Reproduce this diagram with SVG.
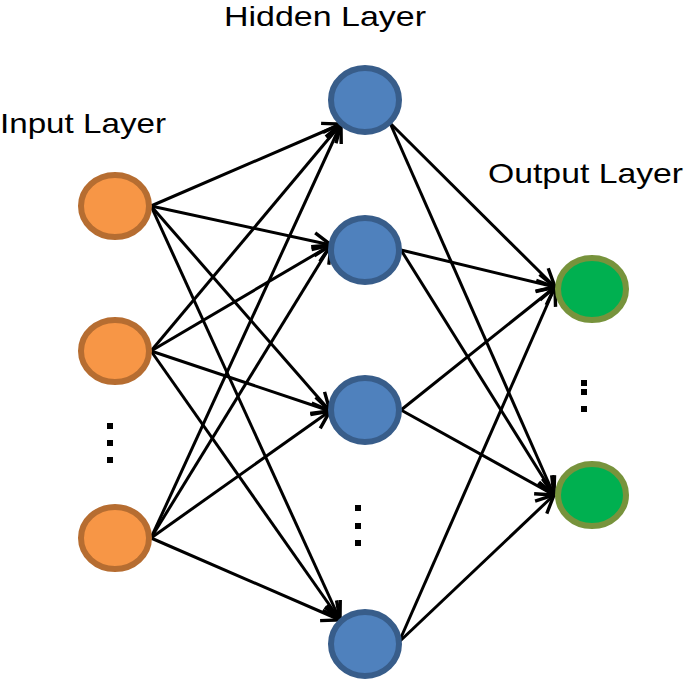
<svg xmlns="http://www.w3.org/2000/svg" width="685" height="682" viewBox="0 0 685 682">
<style>
.lbl{font-family:"Liberation Sans",Arial,sans-serif;font-size:28px;fill:#000}
.e{stroke:#000;stroke-width:3;fill:none;marker-end:url(#ah)}
.in{fill:#F79646;stroke:#B66D31;stroke-width:6}
.hid{fill:#4F81BD;stroke:#385D8A;stroke-width:6}
.out{fill:#00B050;stroke:#77933C;stroke-width:6}
.dot{fill:#000}
</style>
<defs>
<marker id="ah" viewBox="-20 -11 22 22" refX="0" refY="0" markerWidth="22" markerHeight="22" markerUnits="userSpaceOnUse" orient="auto">
<path d="M-18,-8.5 L0,0 L-18,8.5" fill="none" stroke="#000" stroke-width="3.4" stroke-linejoin="miter"/>
</marker>
</defs>
<g id="labels">
<text class="lbl" x="224" y="26" textLength="202" lengthAdjust="spacingAndGlyphs">Hidden Layer</text>
<text class="lbl" x="0" y="133" textLength="166" lengthAdjust="spacingAndGlyphs">Input Layer</text>
<text class="lbl" x="488" y="183" textLength="195" lengthAdjust="spacingAndGlyphs">Output Layer</text>
</g>
<g id="connectors">
<line class="e" x1="151" y1="206" x2="341" y2="124"/>
<line class="e" x1="151" y1="206" x2="331" y2="245"/>
<line class="e" x1="151" y1="206" x2="330" y2="411"/>
<line class="e" x1="151" y1="206" x2="340" y2="620"/>
<line class="e" x1="151" y1="351" x2="341" y2="124"/>
<line class="e" x1="151" y1="351" x2="331" y2="245"/>
<line class="e" x1="151" y1="351" x2="330" y2="411"/>
<line class="e" x1="151" y1="351" x2="340" y2="620"/>
<line class="e" x1="151" y1="538" x2="341" y2="124"/>
<line class="e" x1="151" y1="538" x2="331" y2="245"/>
<line class="e" x1="151" y1="538" x2="330" y2="411"/>
<line class="e" x1="151" y1="538" x2="340" y2="620"/>
<line class="e" x1="390" y1="123" x2="555" y2="287"/>
<line class="e" x1="390" y1="123" x2="554" y2="495"/>
<line class="e" x1="401" y1="250" x2="555" y2="287"/>
<line class="e" x1="401" y1="250" x2="554" y2="495"/>
<line class="e" x1="401" y1="410" x2="555" y2="287"/>
<line class="e" x1="401" y1="410" x2="554" y2="495"/>
<line class="e" x1="399" y1="642" x2="555" y2="287"/>
<line class="e" x1="399" y1="642" x2="554" y2="495"/>
</g>
<g id="input1"><ellipse class="in" cx="115" cy="206" rx="34" ry="31"/></g>
<g id="input2"><ellipse class="in" cx="115" cy="351" rx="34" ry="31"/></g>
<g id="input3"><ellipse class="in" cx="115" cy="538" rx="34" ry="31"/></g>
<g id="input-dots">
<rect class="dot" x="107" y="423" width="6" height="6"/>
<rect class="dot" x="107" y="440" width="6" height="6"/>
<rect class="dot" x="107" y="457" width="6" height="6"/>
</g>
<g id="hidden1"><ellipse class="hid" cx="365" cy="100" rx="34" ry="32"/></g>
<g id="hidden2"><ellipse class="hid" cx="365" cy="250" rx="34" ry="32"/></g>
<g id="hidden3"><ellipse class="hid" cx="365" cy="410" rx="34" ry="32"/></g>
<g id="hidden4"><ellipse class="hid" cx="365" cy="644" rx="34" ry="32"/></g>
<g id="hidden-dots">
<rect class="dot" x="355" y="505" width="6" height="6"/>
<rect class="dot" x="355" y="523" width="6" height="6"/>
<rect class="dot" x="355" y="540" width="6" height="6"/>
</g>
<g id="output1"><ellipse class="out" cx="592" cy="289" rx="34" ry="31"/></g>
<g id="output2"><ellipse class="out" cx="592" cy="495" rx="34" ry="31"/></g>
<g id="output-dots">
<rect class="dot" x="581" y="380" width="6" height="6"/>
<rect class="dot" x="581" y="389" width="6" height="6"/>
<rect class="dot" x="581" y="406" width="6" height="6"/>
</g>
</svg>
